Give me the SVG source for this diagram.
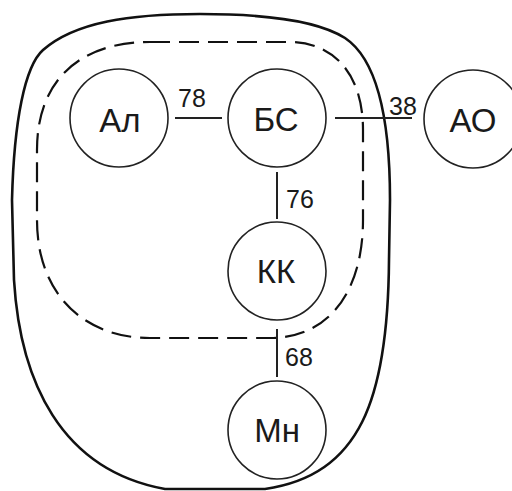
<svg xmlns="http://www.w3.org/2000/svg" width="512" height="491" viewBox="0 0 512 491">
<style>
.region{fill:none;stroke:#111;stroke-width:2.6}
.sub{fill:none;stroke:#111;stroke-width:2.2;stroke-dasharray:20 9}
.node circle{fill:#fff;stroke:#222;stroke-width:1.6}
.node text{font-family:"Liberation Sans",Arial,sans-serif;font-size:33px;fill:#1a1a1a;text-anchor:middle}
.edge{stroke:#222;stroke-width:2;fill:none}
.lbl{font-family:"Liberation Sans",Arial,sans-serif;font-size:25px;fill:#1a1a1a}
</style>
<rect width="512" height="491" fill="#fff"/>
<g id="regions">
<path id="outer" class="region" d="M 200,14 C 270,14 320,22 345,38 C 375,58 390,110 390,200 L 389,260 C 388,400 360,475 265,489 L 165,489 C 60,470 20,380 14,280 L 12,200 C 14,120 25,66 43,50 C 75,22 130,14 200,14 Z"/>
<path id="inner" class="sub" d="M 150,42 L 290,42 C 330,42 363,70 363,130 L 363,220 C 363,290 330,338 270,338 L 150,338 C 85,338 37,295 37,220 L 37,150 C 37,80 80,42 150,42 Z"/>
</g>
<g id="connectors">
<line class="edge" x1="175" y1="118" x2="222" y2="118"/>
<line class="edge" x1="335" y1="118" x2="412" y2="118"/>
<line class="edge" x1="277" y1="172" x2="277" y2="219"/>
<line class="edge" x1="277" y1="329" x2="277" y2="377"/>
<text class="lbl" x="178" y="107">78</text>
<text class="lbl" x="389" y="115">38</text>
<text class="lbl" x="286" y="208">76</text>
<text class="lbl" x="285" y="366">68</text>
</g>
<g id="n-al" class="node"><circle cx="119" cy="118" r="49"/><text x="120" y="132">Ал</text></g>
<g id="n-bs" class="node"><circle cx="277" cy="118" r="49"/><text x="276" y="131">БС</text></g>
<g id="n-ao" class="node"><circle cx="473" cy="119" r="49"/><text x="473" y="132">АО</text></g>
<g id="n-kk" class="node"><circle cx="277" cy="271" r="49"/><text x="276" y="283">КК</text></g>
<g id="n-mn" class="node"><circle cx="277" cy="430" r="49"/><text x="277" y="442">Мн</text></g>
</svg>
